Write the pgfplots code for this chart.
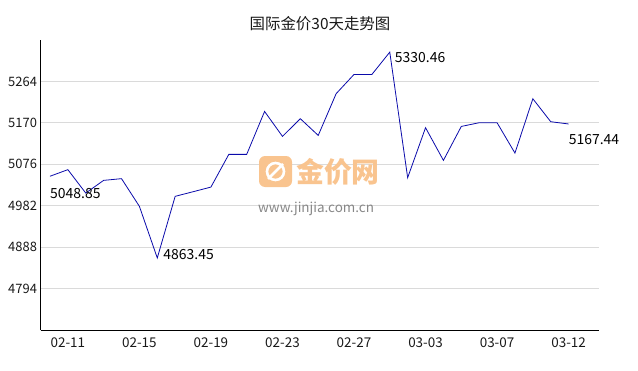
\documentclass[border=0pt]{standalone}
\usepackage{fontspec}
\setmainfont{Noto Sans CJK SC}
\usepackage{pgfplots}
\pgfplotsset{compat=1.18}
\definecolor{linec}{RGB}{10,10,170}
\definecolor{gridc}{RGB}{218,218,218}
\definecolor{wmorange}{RGB}{249,196,143}
\definecolor{wmgray}{RGB}{135,135,135}
\pgfplotstableread{
x y
0 5048.85
1 5063.8
2 5010.7
3 5039.5
4 5043.4
5 4980.6
6 4863.45
7 5003.3
8 5013.7
9 5024.3
10 5098.5
11 5098.5
12 5195.9
13 5139.3
14 5179.4
15 5141.5
16 5236.1
17 5279.8
18 5279.8
19 5330.46
20 5045.6
21 5159.0
22 5084.9
23 5161.9
24 5170.3
25 5170.3
26 5101.4
27 5224.7
28 5172.6
29 5167.44
}\gold
\begin{document}
\begin{tikzpicture}[x=1bp,y=1bp]
\useasboundingbox (0,0) rectangle (638,370);
\node[font=\fontsize{15.5}{18}\selectfont, text=black!90] at (320,346) {国际金价30天走势图};
\begin{axis}[
  at={(40.5bp,40bp)}, anchor=south west,
  scale only axis, width=558.5bp, height=290bp,
  xmin=-0.53, xmax=30.7, ymin=4700, ymax=5358,
  axis x line=bottom, axis y line=left,
  axis line style={-, black, line width=0.9bp},
  ytick={4794,4888,4982,5076,5170,5264},
  xtick={1,5,9,13,17,21,25,29},
  xticklabels={02-11,02-15,02-19,02-23,02-27,03-03,03-07,03-12},
  major tick length=0pt,
  ymajorgrids, grid style={gridc, line width=0.8bp},
  yticklabel style={font=\fontsize{13}{15}\selectfont, text=black!90},
  xticklabel style={font=\fontsize{13.5}{15}\selectfont, text=black!90, yshift=-4bp},
  /pgf/number format/assume math mode=true,
  /pgf/number format/set thousands separator={},
  clip=false,
]
\addplot[linec, line width=0.8bp, mark=none] table[x=x,y=y] {\gold};
\node[anchor=west, inner sep=0pt, font=\fontsize{14}{16}\selectfont, xshift=0bp, yshift=-17.5bp] at (axis cs:0,5048.85) {5048.85};
\node[anchor=west, inner sep=0pt, font=\fontsize{14}{16}\selectfont, xshift=6bp, yshift=3.3bp] at (axis cs:6,4863.45) {4863.45};
\node[anchor=west, inner sep=0pt, font=\fontsize{14}{16}\selectfont, xshift=5bp, yshift=-5bp] at (axis cs:19,5330.46) {5330.46};
\node[anchor=west, inner sep=0pt, font=\fontsize{14}{16}\selectfont, xshift=0bp, yshift=-16bp] at (axis cs:29,5167.44) {5167.44};
\end{axis}
% watermark
\fill[wmorange, rounded corners=6bp] (259,183) rectangle (292,214);
\draw[white, line width=2.6bp] (275.5,198.5) circle (8.5bp);
\draw[white, line width=2.6bp] (268,191) -- (283,206);
\node[font=\fontsize{28}{30}\selectfont\bfseries, text=wmorange, anchor=west, inner sep=0pt] at (296,198.5) {金价网};
\node[font=\fontsize{13.5}{15}\selectfont, text=wmgray, anchor=west, inner sep=0pt] at (258,161) {www.jinjia.com.cn};
\end{tikzpicture}
\end{document}
